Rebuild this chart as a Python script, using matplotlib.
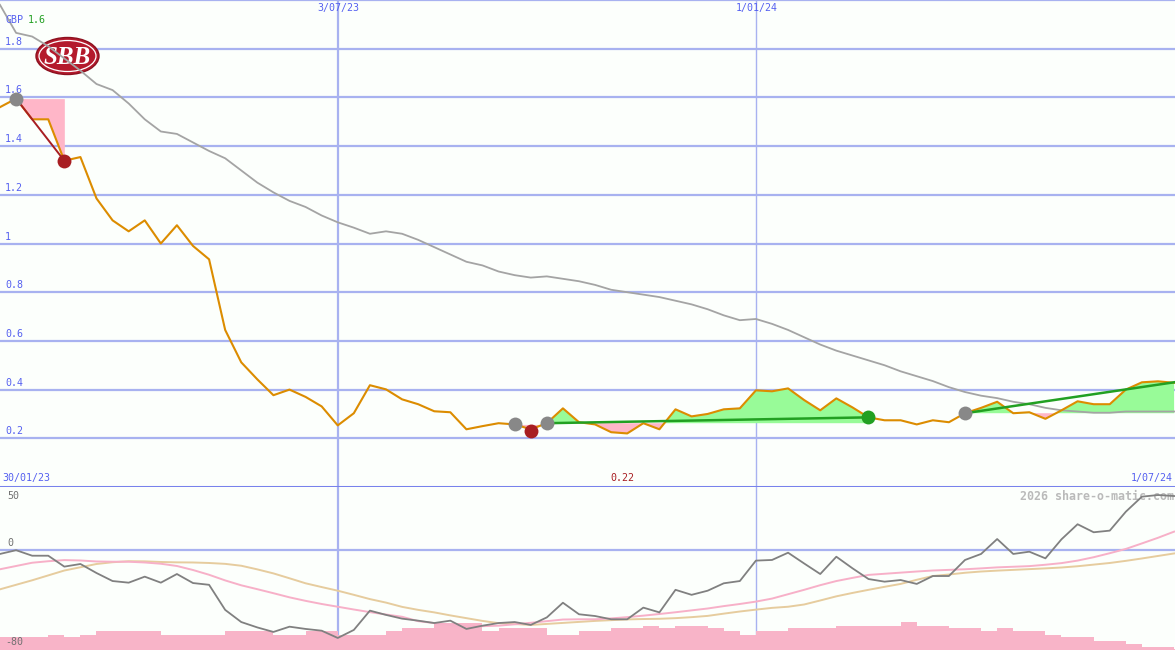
import numpy as np
import pandas as pd
import matplotlib
matplotlib.use('Agg')
import matplotlib.pyplot as plt
from matplotlib.patches import Ellipse

# weekly data, first point 6 Feb 2023
start_date = '2023-02-06'
n_weeks = 74

# closing price (GBP)
price = [1.56, 1.595, 1.51, 1.51, 1.34, 1.355, 1.185, 1.095, 1.05, 1.095,
         1.0, 1.075, 0.99, 0.935, 0.645, 0.512, 0.442, 0.377, 0.40, 0.37,
         0.331, 0.253, 0.303, 0.418, 0.401, 0.36, 0.34, 0.311, 0.307, 0.237,
         0.25, 0.262, 0.257, 0.237, 0.262, 0.323, 0.266, 0.257, 0.225, 0.22,
         0.262, 0.237, 0.319, 0.29, 0.30, 0.319, 0.323, 0.397, 0.393, 0.405,
         0.357, 0.315, 0.364, 0.327, 0.286, 0.274, 0.274, 0.257, 0.274, 0.266,
         0.303, 0.325, 0.35, 0.303, 0.307, 0.28, 0.315, 0.352, 0.34, 0.34,
         0.40, 0.43, 0.434, 0.428]

# long moving average of price
price_ma = [1.98, 1.865, 1.85, 1.81, 1.76, 1.71, 1.655, 1.63, 1.575, 1.51,
            1.46, 1.45, 1.415, 1.38, 1.35, 1.30, 1.25, 1.21, 1.175, 1.15,
            1.115, 1.087, 1.065, 1.04, 1.05, 1.04, 1.015, 0.985, 0.955, 0.925,
            0.91, 0.885, 0.87, 0.86, 0.865, 0.855, 0.845, 0.83, 0.81, 0.80,
            0.79, 0.78, 0.765, 0.75, 0.73, 0.705, 0.685, 0.69, 0.67, 0.645,
            0.615, 0.585, 0.56, 0.54, 0.52, 0.50, 0.475, 0.455, 0.435, 0.41,
            0.39, 0.375, 0.365, 0.35, 0.34, 0.325, 0.315, 0.31, 0.305, 0.305,
            0.31, 0.31, 0.31, 0.31]

# lower panel: oscillator and its two averages
osc = [-3.4, -0.4, -4.8, -4.8, -13.5, -11.4, -18.6, -25, -26.3, -21.5,
       -26.3, -19.4, -26.6, -28, -48, -57.7, -62, -65.6, -61.4, -63.2,
       -64.6, -70.4, -64, -48.6, -52, -55, -56.6, -58.5, -56.6, -63.2,
       -60.6, -58.5, -57.7, -60, -54, -42.3, -51.5, -52.9, -55.5, -55.5,
       -46.2, -50, -32, -36, -32.7, -26.8, -25, -8.7, -8.2, -2.4,
       -11, -19.4, -5.6, -14.8, -23.4, -25.5, -24.2, -27.3, -21, -21,
       -8.2, -3.4, 8.5, -3.4, -1.6, -6.9, 8.3, 20.3, 13.9, 15.2,
       30.3, 42.3, 43.6, 42.8]
osc_fast = [-15.6, -13, -10.4, -9.2, -8.3, -8.6, -9.4, -9.6, -9.6, -10.2,
            -11.2, -13, -16.2, -20, -24.5, -28.4, -31.5, -34.7, -38, -40.8,
            -43.3, -45.5, -47.7, -49.8, -51.7, -53.5, -57, -58.5, -60, -61.4,
            -61, -60.6, -59.5, -58.3, -57, -55.7, -55.5, -55.5, -54.8, -53.8,
            -52.6, -51.3, -49.9, -48.4, -46.9, -45, -43.3, -41.4, -39, -35.5,
            -32, -28.3, -25, -22.5, -20.1, -19.2, -18.3, -17.4, -16.6, -16.1,
            -15.6, -14.9, -14.1, -13.6, -13.1, -12, -10.7, -8.7, -6, -2.8,
            0.6, 5, 9.5, 14.4]
osc_slow = [-31.6, -28, -24.4, -20.5, -16.6, -14, -11.4, -10, -9.2, -9.3,
            -9.8, -10.1, -10.2, -10.6, -11.3, -12.8, -15.7, -18.9, -22.8, -26.8,
            -29.8, -32.7, -36, -39.4, -42.2, -45.6, -48, -50, -52.4, -54.6,
            -56.8, -58.6, -59.3, -60, -59.2, -58.4, -57.6, -56.8, -56.2, -55.6,
            -55.3, -55.1, -54.6, -53.8, -52.8, -51, -49.3, -47.8, -46.4, -45.5,
            -43.7, -40.5, -37.2, -34.5, -32, -29.6, -27.3, -24, -21, -19.8,
            -18.4, -17.4, -16.7, -16.1, -15.5, -14.9, -14.2, -13.2, -11.9, -10.6,
            -8.9, -7, -5, -3]
# volume bars, drawn up from the bottom of the lower panel
volume = [10, 10, 10, 12, 10, 12, 15.5, 15.5, 15.5, 15.5,
          12, 12, 12, 12, 15.5, 15.5, 15.5, 12, 12, 15.5,
          15.5, 12, 12, 12, 15.5, 17.3, 17.3, 21.3, 21.3, 21.3,
          15.5, 17.3, 17.3, 17.3, 12, 12, 15.5, 15.5, 17.3, 17.3,
          19.4, 17.3, 19.4, 19.4, 17.3, 15.5, 12, 15.5, 15.5, 17.3,
          17.3, 17.3, 19.4, 19.4, 19.4, 19.4, 22.1, 19.4, 19.4, 17.3,
          17.3, 15.5, 17.3, 15.5, 15.5, 12, 10, 10, 7.5, 7.5,
          4.8, 2.6, 2.6, 1]

price_ticks = [0.2, 0.4, 0.6, 0.8, 1.0, 1.2, 1.4, 1.6, 1.8]
price_labels = ['0.2', '0.4', '0.6', '0.8', '1', '1.2', '1.4', '1.6', '1.8']
date_lines = ['2023-07-03', '2024-01-01']
date_labels = ['3/07/23', '1/01/24']

# signals: (index, value)
gray_pts = [(1, 1.595), (32, 0.257), (34, 0.262), (60, 0.303)]
red_pts = [(4, 1.34), (33, 0.229)]
green_pts = [(54, 0.286)]
down_trend = [(1, 1.595), (4, 1.34)]
up_trends = [[(34, 0.262), (54, 0.286)], [(60, 0.303), (73, 0.43)]]
# (first index, last index, base level)
fill_spans = [(1, 4, 1.595), (32, 34, 0.257), (34, 54, 0.262), (60, 73, 0.303)]

BG = '#fcfffc'
GRID = '#a8b2f0'
SEP = '#7882ec'
BLUE_TXT = '#5560f0'
ORANGE = '#dc8c00'
MA_GRAY = '#a4a4a4'
PINK = '#ffb6c8'
LGREEN = '#98fb98'
DGREEN = '#22a022'
DRED = '#a81e22'
MONO = 'DejaVu Sans Mono'

dates = pd.date_range(start_date, periods=n_weeks, freq='7D')
price = np.array(price)
xlim = (dates[0], dates[-1] + pd.Timedelta(days=0.4))

fig = plt.figure(figsize=(11.75, 6.5), dpi=100, facecolor=BG)
ax = fig.add_axes([0, 163 / 650, 1, 487 / 650], facecolor=BG)
ax2 = fig.add_axes([0, 0, 1, 163 / 650], facecolor=BG)
for a in (ax, ax2):
    a.set_xlim(*xlim)
    a.set_xticks([])
    a.set_yticks([])
    for s in a.spines.values():
        s.set_visible(False)

# ---- main panel
ax.set_ylim(0, 2.0)
for v in price_ticks + [2.0]:
    ax.axhline(v, color=GRID, lw=1.6, zorder=0.5)
ax.axhline(0, color=SEP, lw=2.2, zorder=0.6, clip_on=False)
ax.axvline(pd.Timestamp(date_lines[0]), color=GRID, lw=1.6, zorder=0.5)
ax.axvline(pd.Timestamp(date_lines[1]), color=GRID, lw=1.0, zorder=0.5)
for v, lbl in zip(price_ticks, price_labels):
    ax.annotate(lbl, xy=(0, v), xycoords=('axes fraction', 'data'), xytext=(5, 2),
                textcoords='offset pixels', fontsize=7.2, family=MONO,
                color=BLUE_TXT, va='bottom', ha='left', zorder=3)
for d, lbl in zip(date_lines, date_labels):
    ax.annotate(lbl, xy=(pd.Timestamp(d), 1), xycoords=('data', 'axes fraction'),
                xytext=(1, -3), textcoords='offset pixels', fontsize=7.2, family=MONO,
                color=BLUE_TXT, va='top', ha='center')

ax.text(5 / 1175, 1 - 20 / 487, 'GBP', transform=ax.transAxes, fontsize=7.2,
        family=MONO, color=BLUE_TXT, va='center', ha='left')
ax.text(28 / 1175, 1 - 20 / 487, '1.6', transform=ax.transAxes, fontsize=7.2,
        family=MONO, color=DGREEN, va='center', ha='left')
ax.text(2 / 1175, 9 / 487, '30/01/23', transform=ax.transAxes, fontsize=7.2,
        family=MONO, color=BLUE_TXT, va='center', ha='left')
ax.text(1 - 2 / 1175, 9 / 487, '1/07/24', transform=ax.transAxes, fontsize=7.2,
        family=MONO, color=BLUE_TXT, va='center', ha='right')
ax.text(622 / 1175, 9 / 487, '0.22', transform=ax.transAxes, fontsize=7.2,
        family=MONO, color=DRED, va='center', ha='center')

# logo
logo_xy = (67.5 / 1175, 1 - 56 / 650)
ax.add_patch(Ellipse(logo_xy, 63 / 1175, 37 / 650, transform=fig.transFigure,
                     facecolor='#b41a2c', edgecolor='#8c1220', lw=1.0, zorder=1.5))
ax.add_patch(Ellipse(logo_xy, 57 / 1175, 31 / 650, transform=fig.transFigure,
                     facecolor='none', edgecolor='white', lw=0.9, zorder=1.55))
ax.text(logo_xy[0], logo_xy[1] - 0.003, 'SBB', transform=fig.transFigure,
        family='Liberation Serif', style='italic', weight='bold', fontsize=18,
        color='white', ha='center', va='center', zorder=1.6)

# fills between price and signal level
for i0, i1, base in fill_spans:
    xs = dates[i0:i1 + 1]
    ys = price[i0:i1 + 1]
    ax.fill_between(xs, ys, base, where=ys >= base, interpolate=True,
                    color=LGREEN, lw=0, zorder=1)
    ax.fill_between(xs, ys, base, where=ys <= base, interpolate=True,
                    color=PINK, lw=0, zorder=1)

ax.plot(dates, price_ma, color=MA_GRAY, lw=1.3, zorder=2)
ax.plot(dates, price, color=ORANGE, lw=1.5, zorder=3)

ax.plot([dates[down_trend[0][0]], dates[down_trend[1][0]]],
        [down_trend[0][1], down_trend[1][1]], color=DRED, lw=1.4, zorder=4)
for seg in up_trends:
    ax.plot([dates[seg[0][0]], dates[seg[1][0]]], [seg[0][1], seg[1][1]],
            color=DGREEN, lw=1.8, zorder=4)

for pts, col in ((gray_pts, '#888888'), (red_pts, DRED), (green_pts, DGREEN)):
    ax.plot([dates[i] for i, _ in pts], [v for _, v in pts], 'o', color=col,
            ms=10, mew=0, zorder=5)

# ---- lower panel
ax2.set_ylim(-80, 50)
ax2.axhline(0, color=GRID, lw=1.6, zorder=0.5)
ax2.axvline(pd.Timestamp(date_lines[0]), color=GRID, lw=1.6, zorder=0.5)
ax2.axvline(pd.Timestamp(date_lines[1]), color=GRID, lw=1.0, zorder=0.5)
ax2.bar(dates, volume, width=7, bottom=-80, align='edge', color='#f8b4c8',
        lw=0, zorder=1)
ax2.plot(dates, osc_slow, color='#e6cc9e', lw=1.4, zorder=2)
ax2.plot(dates, osc_fast, color='#f7b0c8', lw=1.4, zorder=2)
ax2.plot(dates, osc, color='#808080', lw=1.3, zorder=3)

ax2.text(7 / 1175, 1 - 9 / 163, '50', transform=ax2.transAxes, fontsize=7.2,
         family=MONO, color='#707070', va='center', ha='left')
ax2.text(7 / 1175, 1 - 56 / 163, '0', transform=ax2.transAxes, fontsize=7.2,
         family=MONO, color='#707070', va='center', ha='left')
ax2.text(5 / 1175, 8 / 163, '-80', transform=ax2.transAxes, fontsize=7.2,
         family=MONO, color='#707070', va='center', ha='left')
ax2.text(1 - 1 / 1175, 1 - 9 / 163, '2026 share-o-matic.com', transform=ax2.transAxes,
         fontsize=8.4, family=MONO, weight='bold', color='#bababa',
         va='center', ha='right', zorder=2.5)

fig.savefig('out.png', dpi=100, facecolor=BG)
